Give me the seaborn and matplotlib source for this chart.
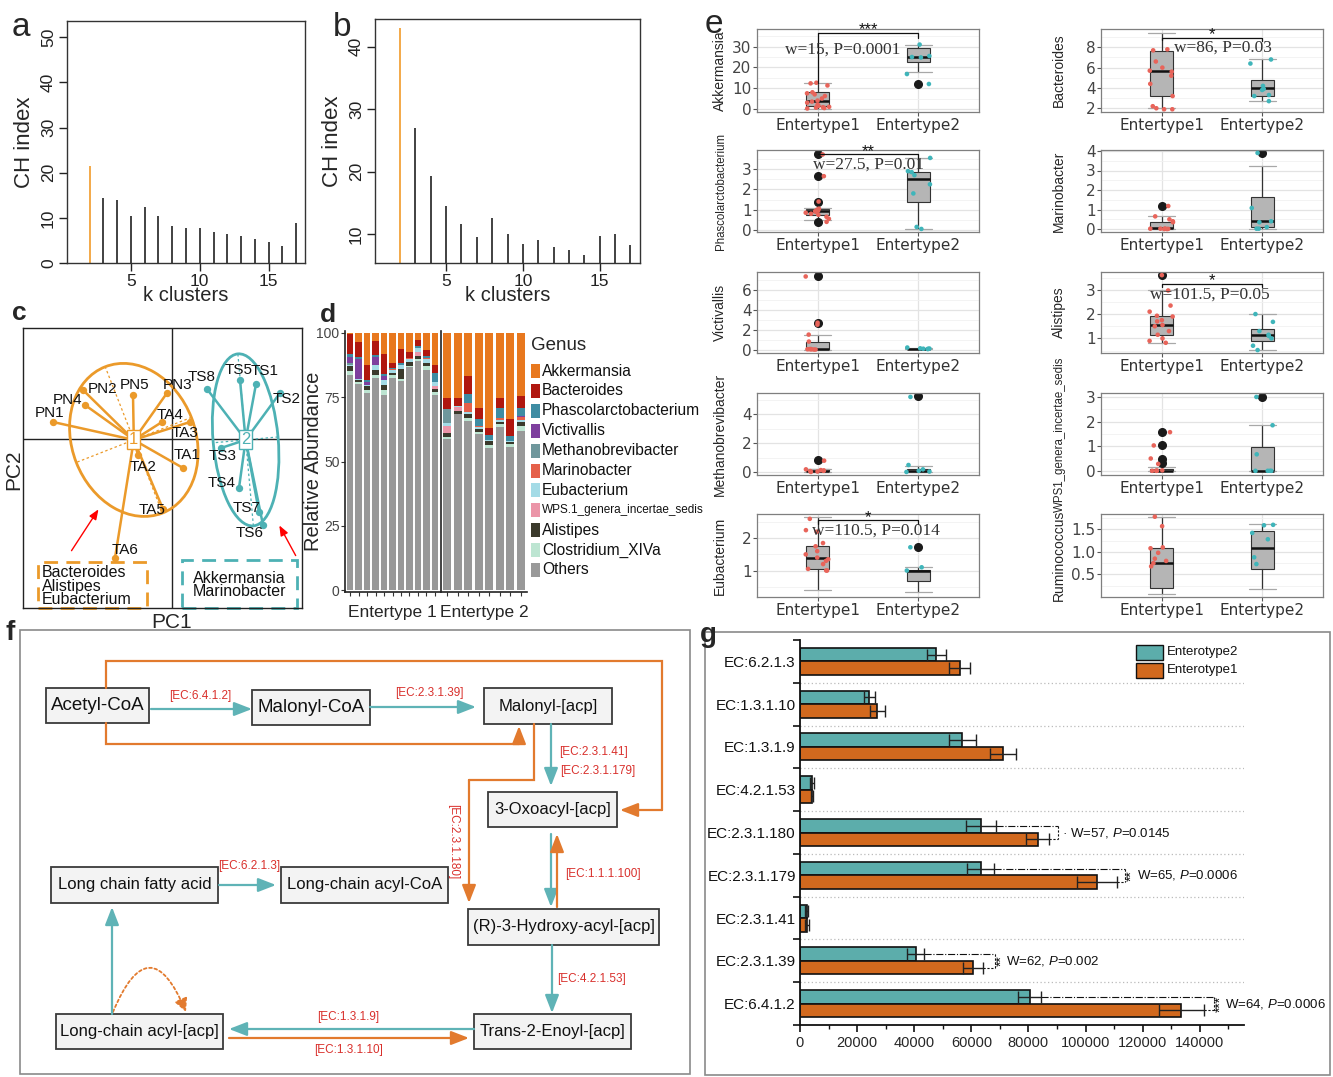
import numpy as np
import pandas as pd
import matplotlib
matplotlib.use('Agg')
import matplotlib.pyplot as plt
from matplotlib.patches import Rectangle, Ellipse, FancyArrowPatch
from matplotlib.ticker import AutoMinorLocator, MultipleLocator
import seaborn as sns

sns.set_theme(style='white')
plt.rcParams['font.family'] = ['Liberation Sans', 'DejaVu Sans']
plt.rcParams['mathtext.fontset'] = 'custom'
plt.rcParams['mathtext.it'] = 'Liberation Sans:italic'
plt.rcParams['mathtext.rm'] = 'Liberation Sans'
SERIF = ['Liberation Serif', 'DejaVu Serif']

# ---------------- data ----------------
# a, b: CH index by number of clusters
k_vals = list(range(2, 18))
ch_a = [21.5, 14.3, 13.9, 10.5, 12.5, 10.3, 8.3, 7.7, 7.8, 6.8, 6.5, 5.9, 5.3, 4.6, 3.7, 8.8]
ch_b = [42.9, 27.0, 19.3, 14.5, 11.7, 9.5, 12.6, 10.0, 8.5, 9.1, 7.9, 7.5, 6.7, 9.7, 10.0, 8.2]

# c: PCA of samples
pc_names = ['PN1', 'PN4', 'PN2', 'PN5', 'PN3', 'TA4', 'TA3', 'TA1', 'TA2', 'TA5', 'TA6',
            'TS8', 'TS5', 'TS1', 'TS2', 'TS3', 'TS4', 'TS7', 'TS6']
pc1 = [-1.19, -0.87, -0.89, -0.39, -0.05, -0.10, 0.18, 0.11, -0.34, -0.09, -0.57,
       0.35, 0.68, 0.84, 1.08, 0.49, 0.67, 0.87, 0.91]
pc2 = [0.17, 0.34, 0.49, 0.44, 0.46, 0.17, 0.17, -0.29, -0.16, -0.70, -1.19,
       0.50, 0.59, 0.55, 0.46, -0.09, -0.49, -0.73, -0.86]
pc_cluster = [1] * 11 + [2] * 8

# d: genus composition per sample (%)
d_type = [1] * 11 + [2] * 8
g_akk = [0.7, 3.6, 12.4, 3.1, 8.5, 11.7, 6.2, 7.7, 2.7, 6.9, 12.4, 25.5, 25.2, 16.9, 29.3, 37.0, 25.5, 33.6, 24.6]
g_bact = [7.7, 5.8, 6.0, 5.7, 7.7, 1.9, 5.7, 2.3, 2.4, 2.1, 3.2, 4.2, 3.1, 6.8, 4.2, 2.7, 3.9, 6.4, 4.8]
g_phasc = [1.0, 1.0, 0.6, 0.6, 0.6, 0.6, 0.8, 0, 0.8, 0.8, 3.5, 0, 0, 3.5, 2.6, 1.9, 3.6, 1.9, 3.0]
g_vict = [2.6, 7.7, 1.3, 3.0, 1.7, 0, 0, 0, 0, 0, 0, 0, 0, 0, 0, 0, 0.3, 0, 0.3]
g_meth = [0.5, 0, 0, 0, 0, 0, 0, 0, 0, 0, 0, 5.5, 0, 0, 0, 0, 0, 0, 0]
g_mar = [0, 0, 0, 0, 0, 0.4, 0, 0.4, 0, 0.6, 0, 0, 0, 3.5, 0.6, 0, 0.8, 0, 1.2]
g_eub = [0.5, 0.3, 0.6, 2.3, 1.8, 0.9, 1.3, 0.9, 1.5, 1.3, 1.8, 0.9, 0.5, 0.8, 0.6, 0.6, 0.6, 0.5, 0.8]
g_wps = [0, 0, 0, 0, 0, 0, 0, 0, 1.7, 0, 0.8, 3.0, 1.8, 0, 0, 0, 0, 0, 0]
g_alis = [2.0, 0.6, 1.3, 1.7, 1.8, 0.9, 3.9, 1.5, 1.2, 1.3, 1.3, 1.3, 0.9, 1.8, 1.3, 1.3, 0.6, 0.8, 1.5]
g_clos = [1.5, 0.8, 1.3, 1.3, 2.0, 1.3, 0.9, 0.5, 0.9, 1.5, 1.3, 0.9, 0.0, 1.0, 0.9, 1.3, 1.5, 1.0, 2.0]
g_others = [83.5, 80.2, 76.5, 82.3, 75.9, 82.3, 81.2, 86.7, 88.8, 85.5, 75.7, 58.7, 68.5, 65.7, 60.5, 55.2, 63.2, 55.8, 61.8]
genus_names = ['Akkermansia', 'Bacteroides', 'Phascolarctobacterium', 'Victivallis', 'Methanobrevibacter',
               'Marinobacter', 'Eubacterium', 'WPS.1_genera_incertae_sedis', 'Alistipes', 'Clostridium_XIVa', 'Others']
genus_colors = ['#E8781E', '#B0170F', '#3E8CA3', '#7E3F9E', '#6F979C', '#E5604A',
                '#A4DBE6', '#EB95A8', '#3B3A2C', '#BDE5D2', '#999999']

# e: genus abundance by enterotype (box stats: whislo, q1, med, q3, whishi)
e_genera = ['Akkermansia', 'Phascolarctobacterium', 'Victivallis', 'Methanobrevibacter', 'Eubacterium',
            'Bacteroides', 'Marinobacter', 'Alistipes', 'WPS1_genera_incertae_sedis', 'Ruminococcus']
e_box1 = [[0.0, 1.4, 4.0, 7.9, 12.7], [0.5, 0.73, 0.94, 1.05, 1.1], [0.0, 0.0, 0.03, 0.8, 1.5],
          [0.0, 0.02, 0.08, 0.2, 0.25], [0.4, 1.04, 1.4, 1.76, 2.65], [2.0, 3.25, 5.7, 7.67, 9.38],
          [0.0, 0.0, 0.03, 0.37, 0.65], [0.82, 1.16, 1.57, 1.94, 2.97], [0.0, 0.0, 0.0, 0.07, 0.15],
          [0.07, 0.2, 0.76, 1.08, 1.78]]
e_box2 = [[18.0, 22.8, 25.2, 29.5, 31.0], [0.05, 1.38, 2.51, 2.84, 3.53], [0.02, 0.05, 0.08, 0.1, 0.15],
          [0.0, 0.02, 0.12, 0.25, 0.45], [0.32, 0.68, 1.0, 1.02, 1.12], [2.7, 3.2, 3.97, 4.8, 6.85],
          [0.0, 0.1, 0.4, 1.63, 3.23], [0.52, 0.89, 1.13, 1.4, 2.0], [0.0, 0.0, 0.0, 0.97, 1.85],
          [0.18, 0.63, 1.08, 1.46, 1.61]]
e_out1 = [[], [3.72, 2.65, 1.38, 0.4], [7.35, 2.65], [0.85], [], [], [1.18], [3.6], [1.57, 1.03, 0.5, 0.3], []]
e_out2 = [[12.0], [], [], [5.25], [1.73], [], [3.9], [], [3.0], []]
e_pts1 = [[0.2, 0.4, 0.6, 0.8, 1.0, 1.5, 2.0, 3.0, 3.5, 4.0, 5.0, 6.2, 7.0, 7.5, 8.0, 11.3, 12.3, 12.6],
          [0.4, 0.55, 0.65, 0.75, 0.8, 0.85, 0.9, 0.92, 0.95, 1.0, 1.05, 1.4, 2.65, 3.72],
          [7.35, 2.7, 2.5, 1.5, 0.8, 0.05, 0.0, 0.02, 0.03, 0.0, 0.04],
          [0.8, 0.2, 0.15, 0.1, 0.05, 0.02, 0.08, 0.12],
          [2.6, 2.25, 2.2, 1.85, 1.75, 1.6, 1.5, 1.4, 1.35, 1.3, 1.2, 1.05, 1.0, 1.0],
          [7.7, 7.8, 6.6, 6.0, 5.7, 5.6, 5.2, 4.4, 3.2, 2.2, 2.0, 1.9, 1.9],
          [1.18, 0.65, 0.5, 0.4, 0.35, 0.02, 0.0, 0.01, 0.03, 0.0, 0.02],
          [3.6, 2.97, 2.35, 2.1, 1.93, 1.9, 1.75, 1.7, 1.55, 1.5, 1.3, 1.15, 1.0, 0.9, 0.82],
          [1.57, 1.03, 0.5, 0.28, 0.0, 0.02, 0.0, 0.01, 0.0],
          [1.78, 1.57, 1.1, 1.08, 0.98, 0.85, 0.8, 0.75, 0.68]]
e_pts2 = [[12.0, 16.8, 24.8, 25.5, 25.0, 31.0],
          [0.05, 0.15, 1.8, 2.25, 2.7, 2.85, 2.9, 3.55],
          [0.05, 0.1, 0.2, 0.08, 0.12, 0.06],
          [5.2, 0.5, 0.2, 0.05, 0.02, 0.1],
          [1.72, 1.1, 1.0],
          [6.8, 6.4, 4.2, 3.9, 3.8, 3.3, 3.2, 2.7],
          [3.9, 1.08, 0.4, 0.35, 0.1, 0.02, 0.02],
          [2.0, 1.68, 1.3, 1.15, 1.1, 1.0, 0.7, 0.52],
          [3.0, 1.85, 0.67, 0.0, 0.0, 0.0, 0.0],
          [1.6, 1.59, 1.42, 1.28, 0.88, 0.73]]
e_stars = ['***', '**', '', '', '*', '*', '', '*', '', '']
e_stat = ['w=15, P=0.0001', 'w=27.5, P=0.01', '', '', 'w=110.5, P=0.014', 'w=86, P=0.03', '',
          'w=101.5, P=0.05', '', '']
# bracket: y of bar, left leg end, right leg end, text x, text y
e_bracket = [(36.4, 12.7, 34.0, 0.25, 28.4), (3.72, 3.72, 3.55, 0.5, 3.2), None, None,
             (2.55, 2.45, 2.45, 0.58, 2.24), (8.9, 8.7, 8.6, 0.61, 8.0), None,
             (3.23, 3.1, 3.1, 0.48, 2.78), None, None]
e_ylim = [(-1.5, 38.5), (-0.1, 3.94), (-0.35, 7.8), (-0.19, 5.47), (0.18, 2.75),
          (1.63, 9.8), (-0.15, 4.05), (0.4, 3.73), (-0.17, 3.16), (0.0, 1.84)]
e_yticks = [[0, 10, 20, 30], [0, 1, 2, 3], [0, 2, 4, 6], [0, 2, 4], [1, 2],
            [2, 4, 6, 8], [0, 1, 2, 3, 4], [1, 2, 3], [0, 1, 2, 3], [0.5, 1.0, 1.5]]

# g: enzyme abundance
ec_names = ['EC:6.2.1.3', 'EC:1.3.1.10', 'EC:1.3.1.9', 'EC:4.2.1.53', 'EC:2.3.1.180',
            'EC:2.3.1.179', 'EC:2.3.1.41', 'EC:2.3.1.39', 'EC:6.4.1.2']
mean_ent2 = [47800, 24200, 56900, 4300, 63400, 63300, 2300, 40500, 80400]
se_ent2 = [3400, 1900, 4600, 700, 5400, 4700, 400, 3000, 4000]
mean_ent1 = [55900, 27100, 71000, 4100, 83300, 104100, 2300, 60700, 133600]
se_ent1 = [3600, 2500, 4500, 300, 4000, 7000, 700, 3500, 8000]
sig_rows = [4, 5, 7, 8]
sig_xpos = [90200, 113900, 68300, 145000]
sig_star = ['\u00b7', '**', '**', '***']
sig_w = [57, 65, 62, 64]
sig_p = ['0.0145', '0.0006', '0.002', '0.0006']

# ---------------- figure ----------------
W, H = 1333, 1077
fig = plt.figure(figsize=(W / 100, H / 100), dpi=100)
fig.patch.set_facecolor('white')


def add_ax(x0, y0, x1, y1):
    return fig.add_axes([x0 / W, 1 - y1 / H, (x1 - x0) / W, (y1 - y0) / H])


def ftext(x, y, s, **kw):
    fig.text(x / W, 1 - y / H, s, **kw)


def frect(x0, y0, x1, y1, **kw):
    fig.patches.append(Rectangle((x0 / W, 1 - y1 / H), (x1 - x0) / W, (y1 - y0) / H,
                                 transform=fig.transFigure, **kw))


# panel letters
ftext(12, 36, 'a', fontsize=24)
ftext(333, 36, 'b', fontsize=24)
ftext(12, 320, 'c', fontsize=19, weight='bold')
ftext(320, 322, 'd', fontsize=19, weight='bold')
ftext(705, 33, 'e', fontsize=24)
ftext(5, 640, 'f', fontsize=20, weight='bold')
ftext(700, 642, 'g', fontsize=20, weight='bold')


# ---- a, b ----
def ch_panel(box, vals, ylim, yticks):
    ax = add_ax(*box)
    cols = ['#F2A33A'] + ['#333333'] * (len(vals) - 1)
    ax.vlines(k_vals, 0, vals, colors=cols, lw=1.3)
    ax.set_xlim(0.36, 17.64)
    ax.set_ylim(*ylim)
    ax.set_xticks([5, 10, 15])
    ax.set_yticks(yticks)
    ax.tick_params(bottom=True, left=True, direction='out', length=6, width=1,
                   labelsize=12.5, color='#222', labelcolor='#222', pad=2)
    plt.setp(ax.get_yticklabels(), rotation=90, va='center')
    ax.set_xlabel('k clusters', fontsize=14.5, labelpad=-2)
    ax.set_ylabel('CH index', fontsize=16, labelpad=4)
    for s in ax.spines.values():
        s.set_color('#333')
        s.set_linewidth(1)
    return ax


ch_panel((67, 21, 305, 263), ch_a, (0, 53.6), [0, 10, 20, 30, 40, 50])
ch_panel((375, 19, 640, 263), ch_b, (5.4, 44.4), [10, 20, 30, 40])

# ---- c ----
ORG_C, TEAL_C = '#EB9A2A', '#4DB1B4'
axc = add_ax(23, 328, 302, 608)
axc.set_xlim(-1.49, 1.30)
axc.set_ylim(-1.69, 1.11)
axc.set_xticks([])
axc.set_yticks([])
axc.axhline(0, color='#222', lw=1)
axc.axvline(0, color='#222', lw=1)
for s in axc.spines.values():
    s.set_color('#222')
    s.set_linewidth(1)
label_off = {'PN1': (-0.03, 0.09), 'PN4': (-0.17, 0.05), 'PN2': (0.20, 0.01), 'PN5': (0.02, 0.10),
             'PN3': (0.11, 0.08), 'TA4': (0.08, 0.07), 'TA3': (-0.05, -0.11), 'TA1': (0.04, 0.13),
             'TA2': (0.05, -0.12), 'TA5': (-0.11, -0.01), 'TA6': (0.10, 0.08), 'TS8': (-0.05, 0.12),
             'TS5': (-0.01, 0.10), 'TS1': (0.09, 0.13), 'TS2': (0.07, -0.06), 'TS3': (0.02, -0.08),
             'TS4': (-0.17, 0.05), 'TS7': (-0.12, 0.04), 'TS6': (-0.13, -0.08)}
for cl, col in [(1, ORG_C), (2, TEAL_C)]:
    idx = [i for i, c in enumerate(pc_cluster) if c == cl]
    xs = np.array([pc1[i] for i in idx])
    ys = np.array([pc2[i] for i in idx])
    mx, my = xs.mean(), ys.mean()
    ev, evec = np.linalg.eigh(np.cov(xs, ys, bias=True))
    for x, y in zip(xs, ys):
        axc.plot([mx, x], [my, y], color=col, lw=1.8, zorder=2)
    axc.scatter(xs, ys, s=28, color=col, zorder=3, linewidths=0)
    ang = np.degrees(np.arctan2(evec[1, 1], evec[0, 1]))
    axc.add_patch(Ellipse((mx, my), 2 * 1.5 * np.sqrt(ev[1]), 2 * 1.5 * np.sqrt(ev[0]), angle=ang,
                          fill=False, ec=col, lw=2, zorder=2))
    for j in range(2):
        r = 1.5 * np.sqrt(ev[j])
        v = evec[:, j]
        axc.plot([mx - r * v[0], mx + r * v[0]], [my - r * v[1], my + r * v[1]],
                 color=col, lw=0.9, ls=(0, (2, 2)), zorder=2)
    axc.text(mx, my, str(cl), color=col, fontsize=12, ha='center', va='center', zorder=4,
             bbox=dict(boxstyle='square,pad=0.12', fc='white', ec=col, lw=1))
    for i in idx:
        dx, dy = label_off[pc_names[i]]
        axc.text(pc1[i] + dx, pc2[i] + dy, pc_names[i], fontsize=11, ha='center', va='center',
                 color='#111', zorder=5)


def cx(px):
    return (px - 172) / 100


def cy(py):
    return (439 - py) / 100


axc.add_patch(Rectangle((cx(38), cy(608)), cx(147) - cx(38), cy(562) - cy(608), fill=False,
                        ec=ORG_C, lw=2, ls=(0, (5, 3)), clip_on=False))
axc.add_patch(Rectangle((cx(182), cy(608)), cx(297) - cx(182), cy(560) - cy(608), fill=False,
                        ec=TEAL_C, lw=2, ls=(0, (5, 3)), clip_on=False))
axc.text(cx(42), cy(586), 'Bacteroides\nAlistipes\nEubacterium', fontsize=11.5, ha='left', va='center',
         linespacing=0.85, color='#111')
axc.text(cx(239), cy(585), 'Akkermansia\nMarinobacter', fontsize=11.5, ha='center', va='center',
         linespacing=0.9, color='#111')
axc.annotate('', xy=(cx(100), cy(507)), xytext=(cx(70), cy(553)),
             arrowprops=dict(arrowstyle='-|>,head_length=0.5,head_width=0.2', color='red', lw=1))
axc.annotate('', xy=(cx(278), cy(523)), xytext=(cx(297), cy(558)),
             arrowprops=dict(arrowstyle='-|>,head_length=0.5,head_width=0.2', color='red', lw=1))
ftext(14, 470, 'PC2', fontsize=15, rotation=90, ha='center', va='center')
ftext(172, 622, 'PC1', fontsize=15, ha='center', va='center')

# ---- d ----
df_d = pd.DataFrame({'Akkermansia': g_akk, 'Bacteroides': g_bact, 'Phascolarctobacterium': g_phasc,
                     'Victivallis': g_vict, 'Methanobrevibacter': g_meth, 'Marinobacter': g_mar,
                     'Eubacterium': g_eub, 'WPS.1_genera_incertae_sedis': g_wps, 'Alistipes': g_alis,
                     'Clostridium_XIVa': g_clos, 'Others': g_others})
df_d['type'] = d_type
stack_cols = genus_names[::-1]
stack_colors = genus_colors[::-1]
for t, box, xl in [(1, (345, 331, 440, 592), 'Entertype 1'), (2, (441, 331, 527, 592), 'Entertype 2')]:
    ax = add_ax(*box)
    sub = df_d[df_d['type'] == t][stack_cols].reset_index(drop=True)
    sub.plot.bar(stacked=True, ax=ax, width=0.78, color=stack_colors, legend=False, edgecolor='none')
    n = len(sub)
    ax.set_xlim(-0.6, n - 0.4)
    ax.set_ylim(-0.6, 100.6)
    ax.set_xticks(range(n))
    ax.set_xticklabels([])
    ax.tick_params(axis='x', bottom=True, length=3, width=0.8, color='#333')
    if t == 1:
        ax.set_yticks([0, 25, 50, 75, 100])
        ax.tick_params(axis='y', left=True, length=3, width=0.8, color='#333', labelsize=10,
                       labelcolor='#444', pad=1)
        ax.set_ylabel('Relative Abundance', fontsize=14.5, labelpad=2)
        ax.yaxis.set_label_coords(-0.23, 0.5)
    else:
        ax.set_yticks([])
    ax.set_xlabel(xl, fontsize=12.5, labelpad=3)
    for side in ['top', 'right']:
        ax.spines[side].set_visible(False)
    for side in ['left', 'bottom']:
        ax.spines[side].set_color('#222')
        ax.spines[side].set_linewidth(1.2)
ftext(531, 346, 'Genus', fontsize=13.5, va='center')
for i, (name, col) in enumerate(zip(genus_names, genus_colors)):
    yc = 371 + i * 19.9
    frect(531, yc - 7, 540, yc + 7, fc=col, ec='none')
    ftext(542, yc, name, fontsize=(8.5 if name.startswith('WPS') else 11.2), va='center', color='#111')

# ---- e ----
E_RED, E_TEAL = '#E8645A', '#3FB5BA'
e_rows = [(29, 112), (150, 232), (272, 353), (393, 475), (514, 597)]
for i, gname in enumerate(e_genera):
    col = i // 5
    row = i % 5
    x0, x1 = (757, 979) if col == 0 else (1101, 1323)
    y0, y1 = e_rows[row]
    ax = add_ax(x0, y0, x1, y1)
    stats = []
    for b, o in ((e_box1[i], e_out1[i]), (e_box2[i], e_out2[i])):
        stats.append(dict(whislo=b[0], q1=b[1], med=b[2], q3=b[3], whishi=b[4], fliers=o))
    ax.bxp(stats, positions=[0, 1], widths=0.22, capwidths=0.26, patch_artist=True, manage_ticks=False,
           boxprops=dict(facecolor='#B5B5B5', edgecolor='#333333', lw=0.8),
           medianprops=dict(color='#111111', lw=1.8),
           whiskerprops=dict(color='#333333', lw=0.9),
           capprops=dict(color='#A8A8A8', lw=0.9),
           flierprops=dict(marker='o', mfc='#1A1A1A', mec='#1A1A1A', ms=5.5))
    grp = ['Entertype1'] * len(e_pts1[i]) + ['Entertype2'] * len(e_pts2[i])
    np.random.seed(7 + i)
    sns.stripplot(x=grp, y=e_pts1[i] + e_pts2[i], hue=grp, order=['Entertype1', 'Entertype2'],
                  hue_order=['Entertype1', 'Entertype2'], palette=[E_RED, E_TEAL], jitter=0.12,
                  size=3.3, linewidth=0, ax=ax, legend=False, zorder=5)
    if e_bracket[i] is not None:
        yb, yl, yr, xt, yt = e_bracket[i]
        ax.plot([0, 0, 1, 1], [yl, yb, yb, yr], color='#111', lw=0.9, zorder=6)
        # stars sit on the bracket
        ax.annotate(e_stars[i], xy=(0.5, yb), xytext=(0, -3), textcoords='offset points',
                    ha='center', va='bottom', fontsize=12, color='#111', zorder=6)
        ax.text(xt, yt, e_stat[i], ha='center', va='center', fontsize=12.5, family=SERIF, color='#333',
                zorder=6)
    ax.set_xlim(-0.6, 1.6)
    ax.set_ylim(*e_ylim[i])
    ax.set_yticks(e_yticks[i])
    ax.yaxis.set_minor_locator(AutoMinorLocator(2))
    ax.set_xticks([0, 1])
    ax.set_xticklabels(['Entertype1', 'Entertype2'], fontsize=11, family='DejaVu Sans', color='#333')
    ax.tick_params(axis='y', which='major', left=True, length=3, width=0.8, color='#555',
                   labelsize=11, labelcolor='#444', pad=1)
    ax.tick_params(axis='x', bottom=True, length=3, width=0.8, color='#555', pad=1)
    for lab in ax.get_yticklabels():
        lab.set_family('DejaVu Sans')
    ax.set_axisbelow(True)
    ax.grid(True, which='major', color='#E3E3E3', lw=0.9)
    ax.grid(True, which='minor', axis='y', color='#F1F1F1', lw=0.6)
    ax.set_xlabel('')
    ax.set_ylabel(gname, fontsize=(8.3 if len(gname) > 18 else 10), labelpad=0)
    ax.yaxis.set_label_coords(-0.135 if col == 0 else -0.158, 0.5)
    for s in ax.spines.values():
        s.set_color('#7F7F7F')
        s.set_linewidth(0.9)

# ---- f ----
TEAL_F, ORG_F, RED_EC = '#5FB3B6', '#E27A2E', '#D9302C'
frect(20, 630, 690, 1074, fill=False, ec='#8A8A8A', lw=1.2)
axf = add_ax(20, 630, 690, 1074)
axf.set_xlim(20, 690)
axf.set_ylim(1074, 630)
axf.axis('off')
nodes = {'Acetyl-CoA': (46, 688, 149, 723), 'Malonyl-CoA': (252, 690, 370, 725),
         'Malonyl-[acp]': (484, 688, 612, 724), '3-Oxoacyl-[acp]': (488, 792, 617, 827),
         'Long chain fatty acid': (51, 867, 218, 903), 'Long-chain acyl-CoA': (281, 867, 448, 903),
         '(R)-3-Hydroxy-acyl-[acp]': (468, 909, 659, 945), 'Long-chain acyl-[acp]': (56, 1014, 223, 1049),
         'Trans-2-Enoyl-[acp]': (474, 1014, 631, 1049)}
for name, (x0, y0, x1, y1) in nodes.items():
    axf.add_patch(Rectangle((x0, y0), x1 - x0, y1 - y0, fc='#F3F3F3', ec='#3A3A3A', lw=1.3))
    fs = 13.5 if name in ('Acetyl-CoA', 'Malonyl-CoA') else 12
    axf.text((x0 + x1) / 2, (y0 + y1) / 2, name, ha='center', va='center', fontsize=fs, color='#111')


def path_arrow(pts, color, ls='-'):
    xs = [p[0] for p in pts]
    ys = [p[1] for p in pts]
    if len(pts) > 2:
        axf.plot(xs[:-1], ys[:-1], color=color, lw=1.6, ls=ls, solid_joinstyle='miter')
    axf.annotate('', xy=pts[-1], xytext=pts[-2],
                 arrowprops=dict(arrowstyle='-|>,head_length=0.9,head_width=0.35', color=color, lw=1.6,
                                 shrinkA=0, shrinkB=0, ls=ls))


def ec_label(x, y, s, rot=0):
    axf.text(x, y, s, ha='center', va='center', fontsize=8.5, color=RED_EC, rotation=rot)


path_arrow([(151, 709), (252, 709)], TEAL_F)
ec_label(200, 696, '[EC:6.4.1.2]')
path_arrow([(370, 707), (476, 707)], TEAL_F)
ec_label(429, 693, '[EC:2.3.1.39]')
path_arrow([(106, 688), (106, 661), (662, 661), (662, 810), (620, 810)], ORG_F)
path_arrow([(106, 723), (106, 744), (519, 744), (519, 726)], ORG_F)
path_arrow([(551, 724), (551, 786)], TEAL_F)
ec_label(594, 752, '[EC:2.3.1.41]')
ec_label(598, 771, '[EC:2.3.1.179]')
path_arrow([(534, 724), (534, 780), (469, 780), (469, 903)], ORG_F)
ec_label(453, 842, '[EC:2.3.1.180]', rot=-90)
path_arrow([(551, 834), (551, 907)], TEAL_F)
path_arrow([(557, 907), (557, 834)], ORG_F)
ec_label(603, 874, '[EC:1.1.1.100]')
path_arrow([(552, 945), (552, 1013)], TEAL_F)
ec_label(592, 979, '[EC:4.2.1.53]')
path_arrow([(474, 1029), (229, 1029)], TEAL_F)
ec_label(348, 1017, '[EC:1.3.1.9]')
path_arrow([(229, 1038), (469, 1038)], ORG_F)
ec_label(349, 1050, '[EC:1.3.1.10]')
path_arrow([(112, 1014), (112, 907)], TEAL_F)
path_arrow([(219, 885), (276, 885)], TEAL_F)
ec_label(249, 866, '[EC:6.2.1.3]')
axf.add_patch(FancyArrowPatch((113, 1012), (186, 1012), connectionstyle='arc3,rad=-1.2',
                              arrowstyle='-|>,head_length=8,head_width=4', color=ORG_F, lw=1.3,
                              ls=(0, (1.5, 1.5)), shrinkA=0, shrinkB=0))

# ---- g ----
G_TEAL, G_ORG = '#5CADAB', '#D2691E'
frect(705, 632, 1330, 1075, fill=False, ec='#8A8A8A', lw=1.2)
axg = add_ax(800, 640, 1244, 1025)
df_g = pd.DataFrame({'ec': ec_names * 2, 'value': mean_ent2 + mean_ent1,
                     'group': ['Enterotype2'] * len(ec_names) + ['Enterotype1'] * len(ec_names)})
sns.barplot(data=df_g, x='value', y='ec', hue='group', hue_order=['Enterotype2', 'Enterotype1'],
            palette=[G_TEAL, G_ORG], width=0.63, errorbar=None, edgecolor='#111', linewidth=1.2,
            saturation=1, ax=axg, legend=False)
ycent = []
for cont, means, ses in zip(axg.containers, [mean_ent2, mean_ent1], [se_ent2, se_ent1]):
    yc = [p.get_y() + p.get_height() / 2 for p in cont.patches]
    ycent.append(yc)
    axg.errorbar(means, yc, xerr=ses, fmt='none', ecolor='#222', elinewidth=1, capsize=4, capthick=1,
                 zorder=5)
for b in np.arange(0.5, len(ec_names) - 1, 1.0):
    axg.axhline(b, color='#BBBBBB', ls=(0, (1, 2)), lw=0.9, zorder=0)
for r, xb, st, w, p in zip(sig_rows, sig_xpos, sig_star, sig_w, sig_p):
    yt, yo = ycent[0][r], ycent[1][r]
    axg.plot([mean_ent2[r] + se_ent2[r], xb], [yt, yt], color='#111', lw=0.8, ls='-.')
    axg.plot([xb, xb], [yt, yo], color='#111', lw=0.8, ls=(0, (2, 1.5)))
    axg.plot([mean_ent1[r] + se_ent1[r], xb], [yo, yo], color='#111', lw=0.8, ls=(0, (2, 1.5)))
    ym = (yt + yo) / 2
    if st == '\u00b7':
        axg.text(xb + 1500, ym, '\u00b7 W=%d, $P$=%s' % (w, p), fontsize=9.5, va='center',
                 ha='left', color='#111')
    else:
        axg.text(xb + 2200, ym, st, fontsize=10, rotation=90, va='center', ha='center', color='#111')
        axg.text(xb + 4000, ym, 'W=%d, $P$=%s' % (w, p), fontsize=9.5, va='center',
                 ha='left', color='#111')
axg.set_xlim(0, 155500)
axg.set_ylim(len(ec_names) - 0.5, -0.5)
axg.set_xticks(range(0, 140001, 20000))
axg.xaxis.set_minor_locator(MultipleLocator(10000))
axg.set_yticks(range(len(ec_names)))
axg.set_yticklabels(ec_names, fontsize=11, color='#111')
axg.set_yticks(np.arange(-0.5, len(ec_names), 1.0), minor=True)
axg.tick_params(axis='y', which='major', length=0, pad=3)
axg.tick_params(axis='y', which='minor', left=True, length=5, width=1.2, color='#111')
axg.tick_params(axis='x', which='major', bottom=True, length=5, width=1.2, color='#111', labelsize=10.5,
                pad=3)
axg.tick_params(axis='x', which='minor', bottom=True, length=3, width=1, color='#111')
axg.set_xlabel('')
axg.set_ylabel('')
for side in ['top', 'right']:
    axg.spines[side].set_visible(False)
for side in ['left', 'bottom']:
    axg.spines[side].set_color('#111')
    axg.spines[side].set_linewidth(1.3)
frect(1136, 645, 1163, 660, fc=G_TEAL, ec='#111', lw=1)
frect(1136, 663, 1163, 678, fc=G_ORG, ec='#111', lw=1)
ftext(1167, 652, 'Enterotype2', fontsize=9.5, va='center', color='#111')
ftext(1167, 670, 'Enterotype1', fontsize=9.5, va='center', color='#111')

fig.savefig('out.png', dpi=100)
